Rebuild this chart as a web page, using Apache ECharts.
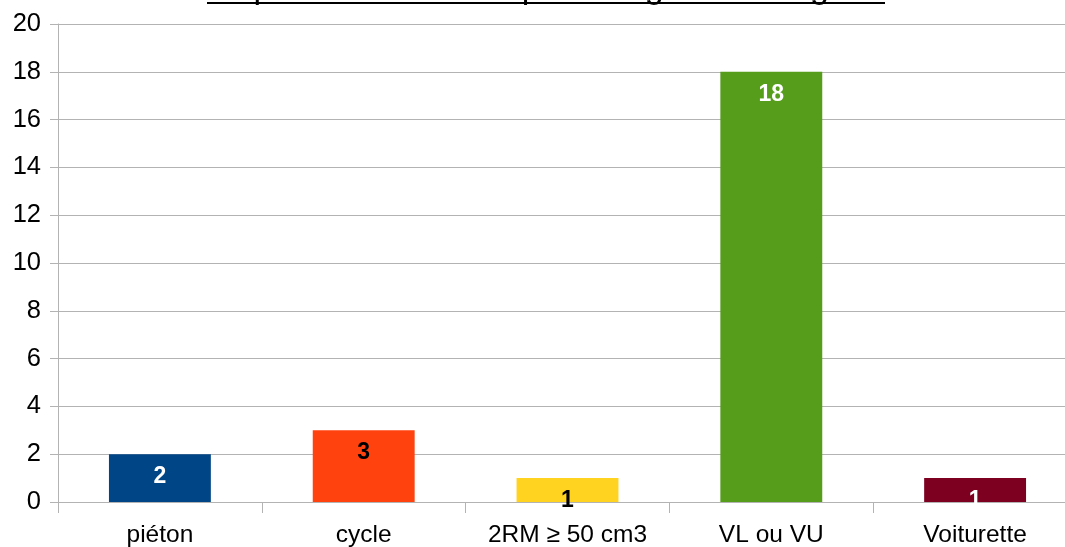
<!DOCTYPE html>
<html><head><meta charset="utf-8">
<script src="https://cdn.jsdelivr.net/npm/echarts@6/dist/echarts.min.js"></script>
<style>html,body{margin:0;padding:0;background:#fff}#c{width:1065px;height:547px}</style>
</head><body><div id="c"></div>
<script>
const titleText = "Répartition des tués par catégorie d'usagers";
const categories = ["piéton", "cycle", "2RM ≥ 50 cm3", "VL ou VU", "Voiturette"];
const values = [2, 3, 1, 18, 1];
const barColors = ["#004586", "#ff420e", "#ffd320", "#579d1c", "#7e0021"];
const labelColors = ["#ffffff", "#000000", "#000000", "#ffffff", "#ffffff"];
const yTicks = [0, 2, 4, 6, 8, 10, 12, 14, 16, 18, 20];

const chart = echarts.init(document.getElementById('c'), null, {renderer: 'canvas'});
const font = 'Liberation Sans';
chart.setOption({
  animation: false,
  backgroundColor: '#ffffff',
  title: {
    text: titleText, left: 205, top: -33, padding: 5,
    textStyle: {fontFamily: font, fontSize: 34, fontWeight: 'normal', color: '#000'}
  },
  graphic: [{type: 'rect', shape: {x: 207, y: 2, width: 678, height: 2}, style: {fill: '#000'}}],
  grid: {left: 58, width: 1019, top: 24, bottom: 45, containLabel: false, outerBoundsMode: 'none'},
  xAxis: {
    type: 'category', data: categories,
    axisLine: {show: true, lineStyle: {color: '#b3b3b3', width: 1}},
    axisTick: {show: true, length: 11, interval: 0, lineStyle: {color: '#b3b3b3'}},
    axisLabel: {interval: 0, margin: 21, color: '#000', fontFamily: font, fontSize: 24.5},
    splitLine: {show: false}
  },
  yAxis: {
    type: 'value', min: yTicks[0], max: yTicks[yTicks.length - 1], interval: yTicks[1] - yTicks[0],
    axisLine: {show: true, lineStyle: {color: '#b3b3b3', width: 1}},
    axisTick: {show: true, length: 8, lineStyle: {color: '#b3b3b3'}},
    axisLabel: {margin: 17, color: '#000', fontFamily: font, fontSize: 25.5},
    splitLine: {show: true, lineStyle: {color: '#b3b3b3', width: 1}}
  },
  series: [{
    type: 'bar', barWidth: '50%',
    data: values.map((v, i) => ({
      value: v,
      itemStyle: {color: barColors[i]},
      label: {color: labelColors[i]}
    })),
    label: {show: true, position: 'insideTop', distance: 11, fontFamily: font, fontSize: 23, fontWeight: 'bold'}
  }]
});
</script></body></html>
